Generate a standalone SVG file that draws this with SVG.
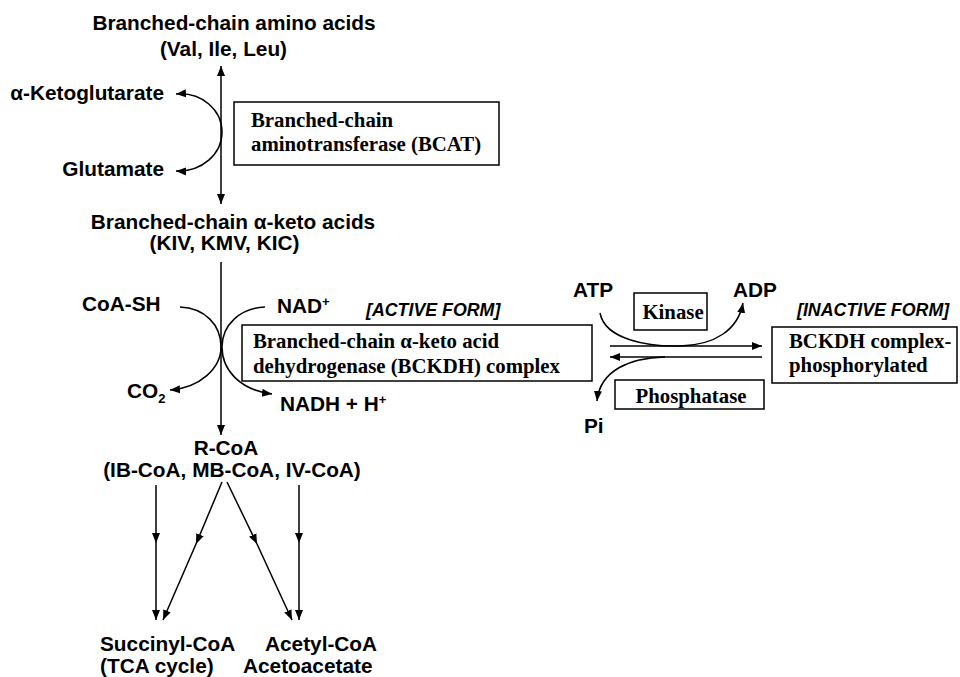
<svg xmlns="http://www.w3.org/2000/svg" width="960" height="677" viewBox="0 0 960 677">
<defs>
<style>
.t{font-family:"Liberation Sans",Arial,sans-serif;font-weight:bold;font-size:20.8px;fill:#000}
.s{font-family:"Liberation Serif","Times New Roman",serif;font-weight:bold;font-size:20.8px;fill:#000}
.i{font-family:"Liberation Sans",Arial,sans-serif;font-weight:bold;font-style:italic;font-size:17.8px;fill:#000}
.box{fill:#fff;stroke:#000;stroke-width:1.5}
.ln{fill:none;stroke:#000;stroke-width:1.5}
</style>
<marker id="ah" viewBox="0 0 10 10" refX="10" refY="5" markerWidth="10" markerHeight="10" markerUnits="userSpaceOnUse" orient="auto-start-reverse">
<path d="M0,1 L10,5 L0,9 Z" fill="#000"/>
</marker>
</defs>
<rect width="960" height="677" fill="#fff"/>

<g id="connectors">
<line class="ln" x1="221" y1="66" x2="221" y2="204" marker-start="url(#ah)" marker-end="url(#ah)"/>
<path class="ln" d="M176,94 C202,92 222,110 222,132 C222,154 202,172 176,171" marker-start="url(#ah)" marker-end="url(#ah)"/>
<line class="ln" x1="221" y1="262" x2="221" y2="435" marker-end="url(#ah)"/>
<path class="ln" d="M180,307 C205,308 221,325 221,347 C221,368 200,388 170,390" marker-end="url(#ah)"/>
<path class="ln" d="M265,307 C240,308 222,325 222,347 C222,370 240,390 272,394" marker-end="url(#ah)"/>
<line class="ln" x1="610" y1="346" x2="762" y2="346" marker-end="url(#ah)"/>
<line class="ln" x1="762" y1="357" x2="610" y2="357" marker-end="url(#ah)"/>
<path class="ln" d="M600,313 C605,340 650,347 680,346 C715,345 738,330 743,303" marker-end="url(#ah)"/>
<path class="ln" d="M665,357 C630,358 600,370 597,401" marker-end="url(#ah)"/>
<polyline class="ln" points="156,485 156,543 156,620" marker-mid="url(#ah)" marker-end="url(#ah)"/>
<polyline class="ln" points="222,482 196,544 163,620" marker-mid="url(#ah)" marker-end="url(#ah)"/>
<polyline class="ln" points="227,482 257,544 292,620" marker-mid="url(#ah)" marker-end="url(#ah)"/>
<polyline class="ln" points="299,485 299,543 299,620" marker-mid="url(#ah)" marker-end="url(#ah)"/>
</g>

<g id="bcaa">
<text class="t" x="234" y="30" text-anchor="middle">Branched-chain amino acids</text>
<text class="t" x="223.5" y="56" text-anchor="middle">(Val, Ile, Leu)</text>
</g>
<g id="akg"><text class="t" x="164" y="100" text-anchor="end">α-Ketoglutarate</text></g>
<g id="glutamate"><text class="t" x="164" y="176" text-anchor="end">Glutamate</text></g>
<g id="bcat">
<rect class="box" x="234" y="102" width="265" height="63"/>
<text class="s" x="251" y="127">Branched-chain</text>
<text class="s" x="251" y="151">aminotransferase (BCAT)</text>
</g>
<g id="bckas">
<text class="t" x="233" y="229" text-anchor="middle">Branched-chain α-keto acids</text>
<text class="t" x="224.5" y="250" text-anchor="middle">(KIV, KMV, KIC)</text>
</g>
<g id="coash"><text class="t" x="82" y="311">CoA-SH</text></g>
<g id="nad"><text class="t" x="277" y="313">NAD<tspan font-size="13" dy="-7">+</tspan></text></g>
<g id="co2"><text class="t" x="127" y="398">CO<tspan font-size="13" dy="5">2</tspan></text></g>
<g id="nadh"><text class="t" x="280" y="411">NADH + H<tspan font-size="13" dy="-7">+</tspan></text></g>
<g id="active">
<text class="i" x="366" y="316">[ACTIVE FORM]</text>
<rect class="box" x="242" y="325" width="350" height="56"/>
<text class="s" x="253" y="348">Branched-chain α-keto acid</text>
<text class="s" x="253" y="373">dehydrogenase (BCKDH) complex</text>
</g>
<g id="atp"><text class="t" x="573" y="297">ATP</text></g>
<g id="adp"><text class="t" x="733" y="297">ADP</text></g>
<g id="kinase">
<rect class="box" x="634" y="293" width="73" height="37"/>
<text class="s" x="673" y="319" text-anchor="middle">Kinase</text>
</g>
<g id="inactive">
<text class="i" x="797" y="316">[INACTIVE FORM]</text>
<rect class="box" x="772" y="327" width="185" height="56"/>
<text class="s" x="789" y="348">BCKDH complex-</text>
<text class="s" x="789" y="372">phosphorylated</text>
</g>
<g id="phosphatase">
<rect class="box" x="615" y="380" width="149" height="29"/>
<text class="s" x="691" y="403" text-anchor="middle">Phosphatase</text>
</g>
<g id="pi"><text class="t" x="584" y="433">Pi</text></g>
<g id="rcoa">
<text class="t" x="226" y="455" text-anchor="middle">R-CoA</text>
<text class="t" x="232" y="477" text-anchor="middle">(IB-CoA, MB-CoA, IV-CoA)</text>
</g>
<g id="succinyl">
<text class="t" x="100" y="651">Succinyl-CoA</text>
<text class="t" x="100" y="673">(TCA cycle)</text>
</g>
<g id="acetyl">
<text class="t" x="265" y="651">Acetyl-CoA</text>
<text class="t" x="243" y="673">Acetoacetate</text>
</g>
</svg>
